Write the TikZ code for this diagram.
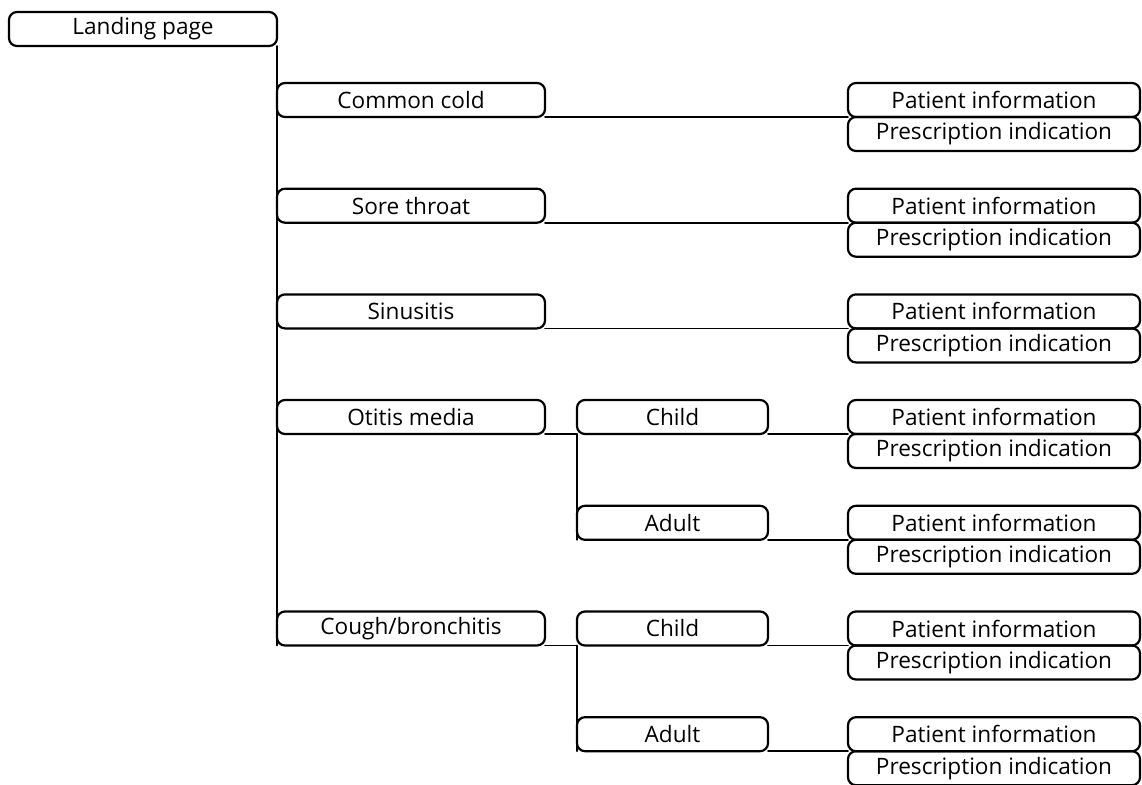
\documentclass[tikz,border=0pt]{standalone}
\usepackage{fontspec}
\setmainfont{Open Sans}
\usetikzlibrary{positioning}

\tikzset{
  pagebox/.style={draw, line width=1.1pt, rounded corners=4pt, anchor=north west,
    minimum height=17pt, inner sep=0pt, outer sep=0pt, font=\fontsize{11.3}{13}\selectfont},
  topbox/.style={pagebox, minimum width=134pt},
  subbox/.style={pagebox, minimum width=95.5pt},
  infobox/.style={pagebox, minimum width=146pt},
  link/.style={line width=0.9pt}
}

\begin{document}
\begin{tikzpicture}[line cap=round,line join=round,x=0.5pt,y=-0.5pt]
\useasboundingbox (0,0) rectangle (1142,784);
\clip (0,0) rectangle (1142,784);
% landing page
\node[topbox] (land) at (9,12) {Landing page};
% conditions
\node[topbox] (cold) at (277,83) {Common cold};
\node[topbox] (throat) at (277,188.7) {Sore throat};
\node[topbox] (sinus) at (277,294.4) {Sinusitis};
\node[topbox] (otitis) at (277,400) {Otitis media};
\node[topbox] (cough) at (277,611.5) {Cough/bronchitis};
% age groups
\node[subbox] (otchild) at (577,400) {Child};
\node[subbox] (otadult) at (577,505.8) {Adult};
\node[subbox] (cochild) at (577,611.5) {Child};
\node[subbox] (coadult) at (577,717.2) {Adult};
% information pages
\foreach \r/\y in {0/83, 1/188.7, 2/294.4, 3/400, 4/505.8, 5/611.5, 6/717.2}{
  \node[infobox] (pi\r) at (848,\y) {Patient information};
  \node[infobox] (pr\r) at (pi\r.south west) {Prescription indication};
}
% connectors
\draw[link] (land.south east) -- (cough.south west);
\draw[link] (cold.south east) -- (pi0.south west);
\draw[link] (throat.south east) -- (pi1.south west);
\draw[link] (sinus.south east) -- (pi2.south west);
\draw[link] (otitis.south east) -- (otchild.south west);
\draw[link] (otchild.south east) -- (pi3.south west);
\draw[link] (otchild.south west) -- (otadult.south west);
\draw[link] (otadult.south east) -- (pi4.south west);
\draw[link] (cough.south east) -- (cochild.south west);
\draw[link] (cochild.south east) -- (pi5.south west);
\draw[link] (cochild.south west) -- (coadult.south west);
\draw[link] (coadult.south east) -- (pi6.south west);
\end{tikzpicture}
\end{document}
